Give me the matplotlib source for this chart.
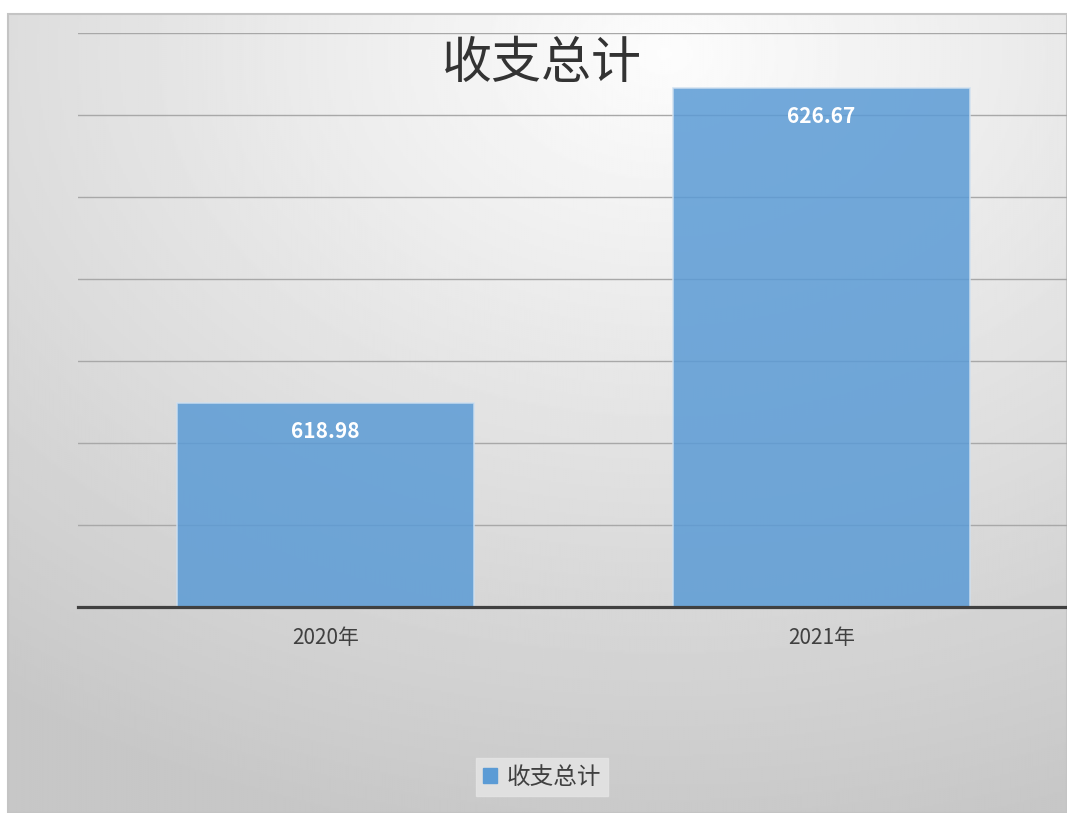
import numpy as np
import matplotlib.pyplot as plt
from matplotlib.patches import Rectangle

plt.rcParams['font.family'] = ['Noto Sans CJK SC', 'DejaVu Sans']

categories = ['2020年', '2021年']
values = [618.98, 626.67]
series_name = '收支总计'
title = '收支总计'

fig = plt.figure(figsize=(10.67, 8.13), dpi=100)

# chart frame with radial grey gradient
fx0, fy1 = 8 / 1067, 1 - 14 / 813
bg = fig.add_axes([fx0, 0, 1 - fx0, fy1], zorder=0)
yy, xx = np.mgrid[0:1:400j, 0:1:500j]
d = np.sqrt(((xx - 0.62) / 1.0) ** 2 + ((yy - 0.05) / 0.95) ** 2)
shade = np.clip(0.99 - 0.2 * d, 0.78, 0.99)
bg.imshow(shade, cmap='gray', vmin=0, vmax=1, aspect='auto', extent=[0, 1, 1, 0])
bg.set_xlim(0, 1)
bg.set_ylim(1, 0)
bg.axis('off')
fig.add_artist(Rectangle((fx0, 0), 1 - fx0, fy1, transform=fig.transFigure,
                         fill=False, edgecolor='#c4c4c4', linewidth=1.5, zorder=1))

ax = fig.add_axes([78 / 1067, 1 - 607 / 813, 991 / 1067, (607 - 33) / 813], zorder=2)
ax.patch.set_alpha(0)
x = np.arange(len(categories))
bars = ax.bar(x, values, width=0.6, bottom=0, color='#5b9bd5', alpha=0.85,
              edgecolor='#cfe0f0', linewidth=1.2, zorder=3)
ax.set_ylim(614, 628)
ax.set_xlim(-0.5, 1.5)
ax.set_yticks(np.arange(614, 629, 2))
ax.yaxis.grid(True, color='#a8a8a8', linewidth=1)
ax.set_axisbelow(True)
ax.tick_params(axis='y', left=False, labelleft=False)
ax.tick_params(axis='x', bottom=False, labelsize=15, colors='#404040', pad=11)
ax.set_xticks(x)
ax.set_xticklabels(categories)
for s in ['top', 'right', 'left']:
    ax.spines[s].set_visible(False)
ax.spines['bottom'].set_color('#404040')
ax.spines['bottom'].set_linewidth(2.3)
ax.spines['bottom'].set_zorder(4)

for b, v in zip(bars, values):
    ax.annotate(f'{v:.2f}', (b.get_x() + b.get_width() / 2, v), xytext=(0, -21),
                textcoords='offset points', ha='center', va='center',
                color='white', fontsize=15, fontweight='bold', zorder=5)

fig.text(542 / 1067, 1 - 64 / 813, title, ha='center', va='center',
         fontsize=36, color='#333333')

leg = fig.legend([Rectangle((0, 0), 1, 1, color='#5b9bd5')], [series_name],
                 loc='center', bbox_to_anchor=(542 / 1067, 1 - 777 / 813),
                 fontsize=17, frameon=True, handlelength=0.6, handleheight=0.6,
                 handletextpad=0.4, borderpad=0.3, fancybox=False)
leg.get_frame().set_facecolor('#e6e6e6')
leg.get_frame().set_edgecolor('#e6e6e6')
for t in leg.get_texts():
    t.set_color('#404040')

fig.savefig('out.png', dpi=100)
